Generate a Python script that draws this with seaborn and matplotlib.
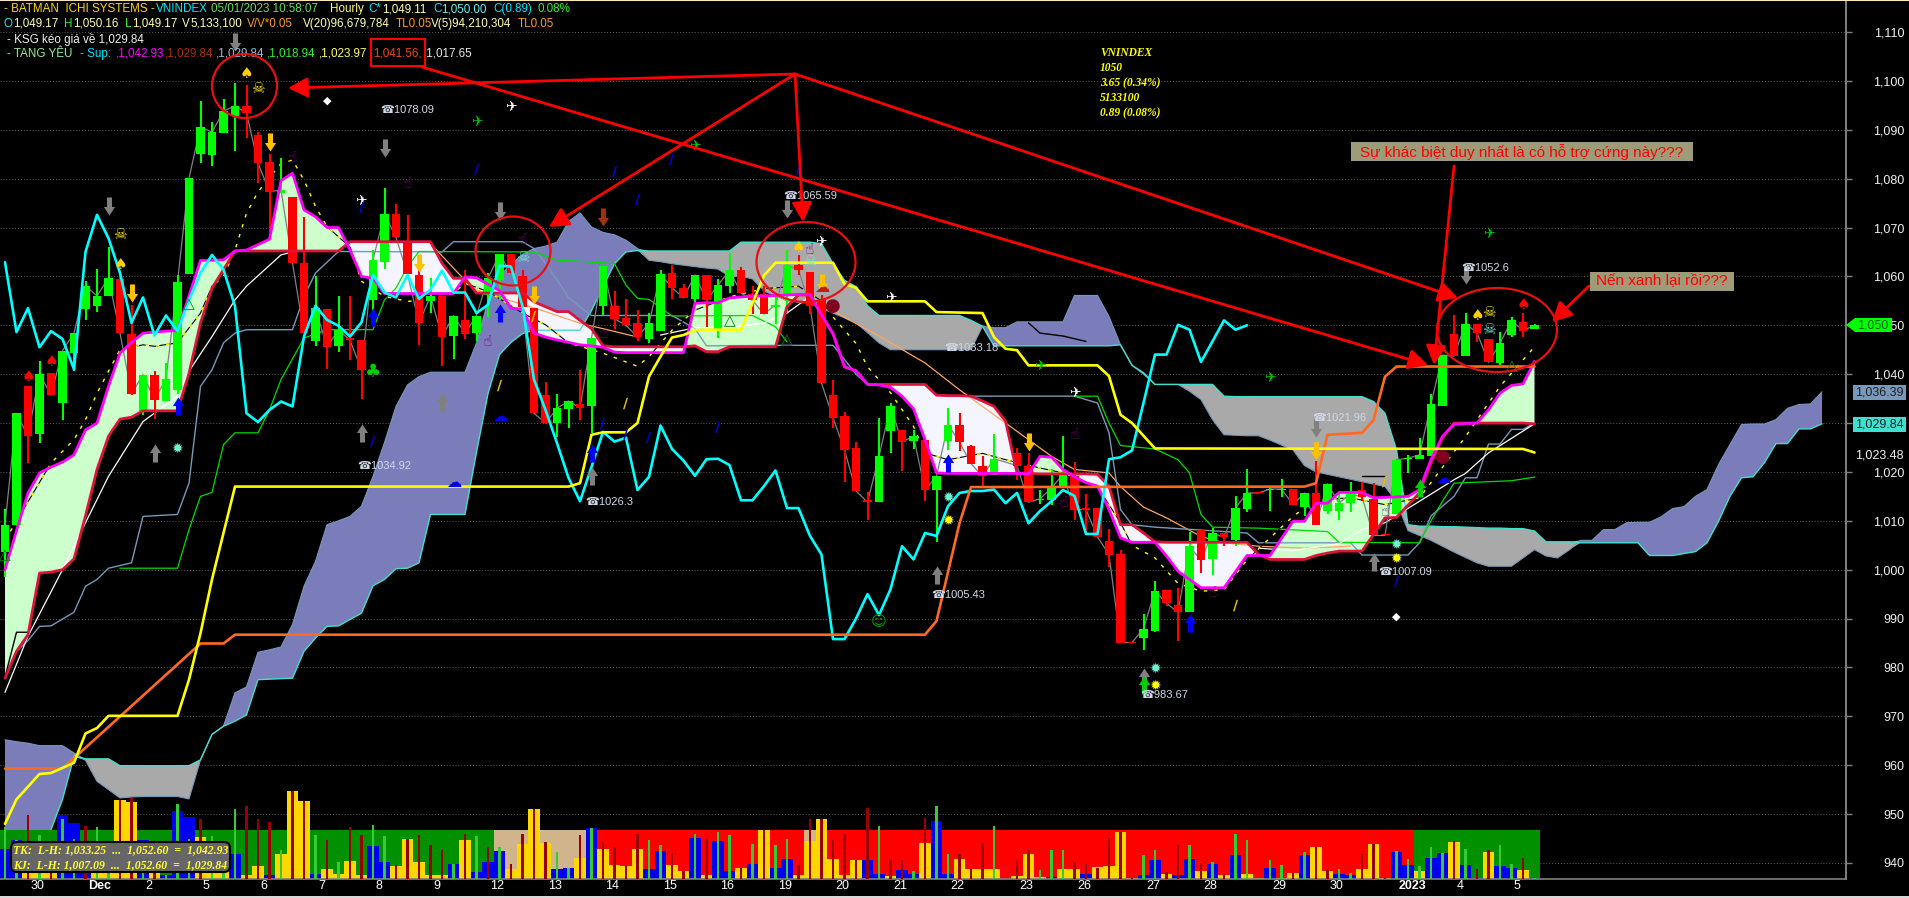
import numpy as np
import matplotlib
matplotlib.use('Agg')
import matplotlib.pyplot as plt
import matplotlib.transforms as mtrans
from matplotlib.patches import Ellipse, Rectangle, Polygon, FancyBboxPatch
import seaborn as sns

sns.set_theme(style='dark', rc={'axes.facecolor': 'black', 'figure.facecolor': 'black'})
UI_FONT = ['Liberation Sans', 'DejaVu Sans']
plt.rcParams['font.family'] = UI_FONT
nan = float('nan')

# --- candles, one per hourly bar ---
opens = [1003.6, 1009.2, 1037.5, 1027.8, 1040.2, 1034.2, 1044.3, 1053.3, 1054, 1055.9,
         1059.5, 1048.3, 1032.5, 1039.9, 1034.6, 1036.7, 1060.5, 1085, 1084.8, 1089.3,
         1092.8, 1094.9, 1088.9, 1083.4, 1077, 1076.2, 1062.7, 1046.7, 1053.3, 1045.7,
         1047.4, 1047, 1055.2, 1062.9, 1072.8, 1067.2, 1060.3, 1055, 1055.9, 1047.9,
         1051.1, 1048.4, 1056.2, 1059.2, 1064.5, 1060, 1053.6, 1035.7, 1030, 1032.8,
         1033.9, 1033.5, 1053.9, 1053.9, 1051.5, 1050.4, 1047.2, 1048.9, 1060.6, 1057.7,
         1055.3, 1060.3, 1049, 1058, 1061.4, 1056.5, 1056.3, 1053.8, 1056.4, 1062.3,
         1060.9, 1055.1, 1035.7, 1031.4, 1024.9, 1014.3, 1013.8, 1028.3, 1028.5, 1026.3,
         1026.6, 1016.3, 1026.4, 1029.7, 1025.3, 1021.3, 1019.3, nan, 1023.8, 1021.3,
         1014.2, 1014.3, 1017.2, 1019.1, 1012.6, 1012.6, 1005.9, 1003.3, 985.2, 986,
         987.4, 995.9, 992.8, 991.3, 1008.2, 1002.1, 1007.5, 1006.1, 1012.5, 1015.9,
         1016.2, 1016.3, 1016.5, 1012.8, 1015.7, 1012.1, 1012.1, 1013.6, 1016.4, 1014.5,
         1007.2, 1011.3, 1022.6, 1022.6, 1023.3, 1033.5, 1048.2, 1043.7, 1050.3, 1047.2,
         1042.2, 1048, 1050.7, 1049.2]
highs = [1012.4, 1032, 1037.5, 1042.6, 1040.2, 1044.8, 1048.4, 1059, 1061.5, 1066.1,
         1061, 1054.2, 1039.9, 1040.7, 1042.3, 1060.3, 1080.1, 1095.9, 1091.6, 1096.3,
         1099.6, 1099.2, 1089.5, 1085, 1084.2, 1076.2, 1072.2, 1060, 1053.3, 1056,
         1056, 1047, 1065.4, 1078.1, 1074.8, 1072.6, 1061.4, 1059.7, 1055.9, 1052,
         1061.4, 1052, 1060.6, 1064.5, 1064.5, 1061.3, 1053.6, 1038.4, 1036, 1034.5,
         1040.8, 1047.3, 1062.1, 1057, 1055.3, 1053.1, 1052.6, 1061.4, 1062.4, 1058.5,
         1060.3, 1060.3, 1059.4, 1064.7, 1062, 1058, 1058, 1056.5, 1065.5, 1064.3,
         1060.9, 1056.2, 1038.8, 1032.3, 1026.2, 1015.9, 1031, 1034, 1028.5, 1028.5,
         1026.6, 1019.1, 1033.1, 1032.1, 1025.6, 1023.3, 1027.8, nan, 1024.9, 1023.8,
         1016.4, 1020.5, 1027.4, 1022, 1015.4, 1012.6, 1008.3, 1004, 985.2, 990.9,
         997.6, 995.9, 996.3, 1007.8, 1008.2, 1008.5, 1007.5, 1015, 1020.6, 1015.9,
         1016.8, 1018.5, 1016.5, 1015.7, 1022.2, 1017.6, 1015.7, 1018, 1018, 1017.7,
         1007.2, 1022.5, 1023.5, 1026.9, 1036, 1043.9, 1052.1, 1052.5, 1050.3, 1047.2,
         1048.6, 1051.6, 1052.5, 1050.3]
lows = [998.5, 1009, 1021.8, 1026, 1035.7, 1030.7, 1040.6, 1051.1, 1052.8, 1055.9,
        1048.4, 1035.7, 1031.6, 1030.9, 1034.6, 1036, 1060.5, 1083.2, 1082.6, 1089.3,
        1085.7, 1088.3, 1079.1, 1069.1, 1077, 1062.7, 1048.4, 1045.8, 1041, 1044.5,
        1042.8, 1035, 1052.5, 1061.5, 1068, 1060.5, 1046, 1052.5, 1041.6, 1043.1,
        1047.2, 1046.7, 1051.6, 1055.1, 1060.6, 1052.1, 1032, 1030, 1027.2, 1029,
        1030.6, 1027.9, 1052.1, 1049.3, 1050, 1046.8, 1046.4, 1048.9, 1055.4, 1055.6,
        1054.5, 1049.7, 1047.3, 1056.6, 1056.6, 1052.4, 1052.3, 1050.2, 1052.8, 1060.3,
        1052.3, 1038.2, 1028.9, 1018, 1016.1, 1010.1, 1013.8, 1023.9, 1020.1, 1024.6,
        1014, 1005.6, 1024.4, 1024.2, 1021.7, 1016.7, 1019.3, nan, 1018.4, 1013.8,
        1013.5, 1013.3, 1017.2, 1010.1, 1007.2, 1006.7, 1000.5, 985.1, 985.1, 983.6,
        987.2, 992.5, 985.4, 991.3, 999.3, 999, 1004.9, 1004.9, 1011.7, 1015.7,
        1012.1, 1014.8, 1013.3, 1010.9, 1009.2, 1011.3, 1010.1, 1011.9, 1014, 1007,
        1007, 1011.3, 1019.8, 1022.6, 1023.3, 1033.5, 1043.7, 1043.7, 1046.5, 1042.4,
        1041.8, 1047.5, 1047.7, 1049.2]
closes = [1009.2, 1032, 1027.3, 1040.1, 1035.7, 1044.8, 1048.4, 1058.1, 1056, 1059.7,
          1048.4, 1036, 1039.9, 1034.8, 1039, 1058.9, 1080.1, 1090.6, 1089.5, 1093.8,
          1094.9, 1093.4, 1083.2, 1077.3, 1077.7, 1062.7, 1048.4, 1053.5, 1045.5, 1049.1,
          1046.9, 1040.9, 1063.4, 1072.8, 1068, 1060.5, 1050.4, 1056, 1047.6, 1052,
          1048.3, 1052, 1059.6, 1064.5, 1060.6, 1053.8, 1032, 1030, 1033, 1034.5,
          1033.1, 1047.3, 1062.1, 1051.3, 1050, 1047.6, 1050.4, 1060.5, 1057.7, 1055.6,
          1060.3, 1055.1, 1058.2, 1061.3, 1056.6, 1055.1, 1052.3, 1054.2, 1062.3, 1061.3,
          1053.9, 1038.2, 1031.1, 1024.5, 1016.1, 1013.8, 1023.2, 1033.4, 1026.1, 1027.3,
          1016.3, 1019.1, 1029.7, 1026.1, 1021.7, 1019.1, 1022.7, nan, 1021.3, 1013.8,
          1014.5, 1016.7, 1019.5, 1012.3, 1012.3, 1006.7, 1003.1, 985.1, 985.1, 987.9,
          995.7, 993.1, 991.3, 1004.8, 1001.9, 1007.5, 1006.6, 1012.6, 1015.7, 1015.7,
          1016.5, 1016.5, 1013.3, 1015.7, 1009.2, 1017.6, 1013.6, 1015.5, 1014.9, 1007,
          1007, 1022.5, 1022.8, 1023.5, 1033.9, 1043.9, 1043.7, 1050.3, 1048.5, 1042.4,
          1046.3, 1051, 1048.9, 1050]

# --- ichimoku cloud pair, one value per bar ---
magenta_line = [1000, 1008, 1015.7, 1019.8, 1021, 1022, 1023.5, 1028.6, 1030, 1037.5,
                1044.3, 1046.5, 1048.4, 1048.6, 1048.8, 1048.9, 1056, 1063.3, 1063.3, 1063.4,
                1065.2, 1065.4, 1066.5, 1067.6, 1079.6, 1081.1, 1073.6, 1072.2, 1070, 1070,
                1065.4, 1060, 1059.6, 1056.5, 1056.5, 1056.5, 1056.5, 1056.5, 1056.5, 1056.5,
                1059.9, 1059.7, 1058.4, 1057.1, 1053.5, 1053.3, 1048.4, 1047.6, 1047, 1046.5,
                1046, 1045.8, 1045.5, 1044.5, 1044.4, 1044.4, 1044.4, 1044.4, 1044.4, 1044.4,
                1054.5, 1054.6, 1054.6, 1055.6, 1055.8, 1056, 1056, 1056.1, 1056.2, 1056.3,
                1056.3, 1052.1, 1048.3, 1041.5, 1040.7, 1037.9, 1037.8, 1037.3, 1035.5, 1032.9,
                1026.6, 1019.8, 1019.7, 1019.7, 1019.7, 1019.7, 1019.7, 1019.7, 1019.7, 1019.6,
                1023.2, 1023, 1020.5, 1019, 1017.8, 1017.1, 1012.3, 1006.5, 1005.6, 1005.6,
                1005.6, 1002.8, 999.7, 998, 996.3, 996.3, 996.3, 999.6, 1002.9, 1002.9,
                1002.9, 1006.4, 1009.9, 1009.9, 1013.6, 1013.6, 1015.8, 1015.8, 1015.8, 1014.7,
                1014.8, 1014.9, 1015, 1016.4, 1022.5, 1027.3, 1029.7, 1029.9, 1030, 1032.7,
                1036.1, 1037.7, 1038, 1042.6]
crimson_line = [977.8, 983.3, 986.7, 999.3, 999.5, 1000, 1002.2, 1011, 1020.5, 1027.3,
                1030.8, 1031.2, 1032.5, 1032.5, 1032.5, 1032.5, 1040.2, 1050.5, 1057.6, 1061.4,
                1065.2, 1065.2, 1065.2, 1065.2, 1065.2, 1065.2, 1065.2, 1065.2, 1065.2, 1065.2,
                1067.1, 1067.1, 1067.1, 1067.1, 1067.1, 1067.1, 1067.1, 1067.1, 1062.7, 1059.6,
                1059.6, 1056.6, 1056.6, 1056.6, 1056.6, 1056.6, 1054.8, 1053.8, 1052.8, 1052.8,
                1051, 1049.3, 1045.8, 1045.6, 1045.6, 1045.6, 1045.6, 1045.6, 1045.6, 1045.6,
                1045.8, 1044.6, 1044.6, 1045.6, 1045.6, 1045.6, 1045.6, 1045.6, 1053.8, 1056.2,
                1056.2, 1052.1, 1048.3, 1041.5, 1040.7, 1037.9, 1037.9, 1037.9, 1037.9, 1037.9,
                1037.9, 1035.7, 1035.6, 1035.6, 1035.5, 1034.5, 1033.4, 1030.4, 1019.8, 1019.7,
                1019.6, 1019.6, 1019.6, 1019.6, 1019.6, 1019.5, 1017.1, 1009.2, 1009.2, 1007.5,
                1005.7, 1005.6, 1005.6, 1005.6, 1005.6, 1005.6, 1005.6, 1005.6, 1005.6, 1003.1,
                1002.1, 1002.1, 1002.1, 1002.1, 1002.9, 1003.4, 1003.8, 1003.8, 1003.8, 1007.2,
                1010.6, 1010.7, 1013.2, 1015.7, 1021.8, 1027, 1030, 1030, 1030, 1030,
                1030, 1030, 1030, 1029.84]

# --- kumo shifted forward, runs past the last candle ---
kumo_top = [965.2, 964.8, 964.5, 964, 964, 964, 962.5, 961.3, 961.3, 961.3,
            959.9, 959.9, 959.9, 959.9, 959.9, 959.9, 959.9, 961.1, 966.3, 968,
            974.8, 976, 983.1, 983.6, 984.2, 988.8, 996.6, 1001.7, 1009.2, 1010,
            1010.9, 1013, 1019.1, 1026, 1033.4, 1037.8, 1039.5, 1040.4, 1040.4, 1040.4,
            1040.4, 1046.4, 1055, 1060, 1062.5, 1064.5, 1065.7, 1066.2, 1067, 1071.2,
            1073, 1070.1, 1069, 1068.5, 1067.4, 1065.7, 1065.2, 1065.2, 1065.2, 1065.2,
            1065.2, 1065.2, 1065.2, 1065.2, 1067, 1067, 1067, 1067, 1067, 1067,
            1067, 1066.7, 1062.6, 1059.2, 1057.9, 1054, 1052, 1052, 1052, 1052,
            1052, 1052, 1052, 1052, 1051, 1049.8, 1049.5, 1049.5, 1050.7, 1050.7,
            1050.7, 1050.7, 1050.7, 1056.1, 1056.1, 1056.1, 1051.8, 1046, 1041.8, 1040.3,
            1037.9, 1037.9, 1037.9, 1037.9, 1037.9, 1037.9, 1035.5, 1035.4, 1035.4, 1035.4,
            1035.4, 1035.4, 1035.4, 1035.4, 1035.4, 1035.4, 1035.4, 1035.4, 1035.4, 1034.4,
            1032, 1024.5, 1009.2, 1008.9, 1008.9, 1008.8, 1008.8, 1008.7, 1008.6, 1008.5,
            1008.5, 1008.4, 1008.4, 1007.9, 1005.7, 1005.7, 1005.7, 1006, 1006, 1008.2,
            1008.2, 1009.6, 1009.7, 1009.7, 1010.8, 1012.5, 1012.9, 1015, 1016.4, 1021.5,
            1025.6, 1029.7, 1029.8, 1029.8, 1030.7, 1033, 1033.8, 1033.9, 1036.39]
kumo_bot = [937, 937, 939, 941.8, 946.8, 953, 961.8, 961, 956.7, 955,
            953.3, 953.5, 953.6, 953.6, 953.6, 953.6, 953.1, 961.1, 966.3, 968,
            969, 970.3, 977.5, 977.6, 977.7, 977.8, 983.3, 986, 988.4, 988.5,
            989.8, 991.1, 996.7, 998, 1000.2, 1000.3, 1001.4, 1011.3, 1011.3, 1011.3,
            1011.3, 1024, 1036, 1044, 1046.5, 1048.3, 1049, 1049, 1049, 1049,
            1049, 1053, 1057.9, 1062.6, 1065, 1065.3, 1063.3, 1063, 1062.6, 1062.3,
            1062, 1061.7, 1061.5, 1060, 1060, 1059.5, 1057, 1056, 1055, 1054.7,
            1054.5, 1053.5, 1052.5, 1051.5, 1050.5, 1048.5, 1046.4, 1045, 1045, 1045,
            1045, 1045, 1045, 1045, 1045, 1049.8, 1045.8, 1045.8, 1045.8, 1045.8,
            1045.8, 1045.8, 1045.8, 1045.8, 1045.8, 1045.8, 1045.8, 1046, 1041.8, 1040,
            1037.9, 1037.9, 1037.9, 1036.5, 1034.8, 1030.7, 1027.6, 1027.5, 1027.4, 1027.4,
            1026.5, 1025.5, 1024.5, 1021.3, 1020, 1019.5, 1019, 1018.5, 1018, 1017.5,
            1017, 1014, 1008, 1007, 1006, 1004.8, 1003.6, 1002.5, 1001.4, 1000.7,
            1000.7, 1000.7, 1002.4, 1004.1, 1002.8, 1002.4, 1004, 1005.5, 1005.5, 1005.5,
            1005.5, 1005.5, 1005.5, 1002.9, 1002.9, 1002.9, 1003.3, 1003.7, 1005.5, 1009.9,
            1015, 1018.8, 1019, 1021.9, 1025.8, 1025.8, 1028.8, 1028.8, 1029.84]
gray_spans = [(6, 17), (55, 85), (97, 137)]

# --- lagging span (thick cyan), one value per bar up to bar 108 ---
cyan_line = [1062.9, 1048.6, 1053.5, 1045.5, 1048.8, 1047.2, 1041, 1065, 1072.6, 1067.8,
             1060.7, 1050.5, 1055.7, 1047.9, 1052, 1048.8, 1055.2, 1060.7, 1064.4, 1061.4,
             1053.9, 1032, 1030.2, 1032.7, 1034.4, 1033.4, 1047.7, 1054, 1051.1, 1049.9,
             1047.7, 1050.6, 1060.3, 1056.7, 1055.7, 1060.3, 1055.4, 1057.3, 1061.2, 1056.7,
             1056.7, 1052.5, 1054.2, 1062.2, 1062, 1053.9, 1038.9, 1032.7, 1025.9, 1018.8,
             1014, 1021, 1028.2, 1026.2, 1027, 1016.3, 1019, 1029.5, 1024.7, 1022.3,
             1019.2, 1022.6, 1022.7, 1021.4, 1014.2, 1014.2, 1017.1, 1020.3, 1012.6, 1012.6,
             1006.9, 1003.1, 985.8, 985.8, 990, 995, 990.7, 996, 1004.8, 1002.1,
             1007.5, 1006.9, 1013, 1015.7, 1016.1, 1016.1, 1016.4, 1013.6, 1015.7, 1009.5,
             1012, 1014, 1016.3, 1015.1, 1007.3, 1007.3, 1022.6, 1023, 1024.4, 1034.1,
             1044, 1044, 1050.1, 1049.1, 1042.5, 1046.7, 1051, 1049.1, 1050]

# --- other lines: (bar, price) vertices ---
yellow_x = [0, 1, 3, 4, 6, 7, 8, 9, 15, 16, 17, 18, 19, 20, 49, 50, 51, 52, 54, 55, 56, 57, 58, 59, 60, 61, 64, 65, 66, 67,
            72, 73, 74, 75, 80, 81, 85, 86, 87, 88, 89, 95, 96, 97, 98, 100, 132, 133]
yellow_y = [948, 953, 958.2, 958.4, 960.5, 966.5, 967.6, 970.1, 970.1, 977.5, 987, 998, 1007.5, 1017, 1017, 1017.7, 1027.6, 1028.1,
            1028.1, 1030, 1039.5, 1043.6, 1047.5, 1048, 1049, 1049.1, 1049.1, 1054.5, 1060.2, 1062.8, 1062.8, 1058.4, 1057.7,
            1054.9, 1054.9, 1052.7, 1052.5, 1047.6, 1045.2, 1044.9, 1041.8, 1041.8, 1039.6, 1031.7, 1030, 1024.8, 1024.7, 1023.97]
orange_x = [0, 5, 17, 19, 20, 80, 81, 83, 84, 113, 114, 115, 118, 119, 120, 121, 133]
orange_y = [959.3, 959.3, 984.9, 984.9, 986.7, 986.7, 989.5, 1009.5, 1016.9, 1017, 1017.7, 1027.6, 1028, 1030.6, 1039.5, 1041.56, 1041.56]
steel_x = [1, 2, 3, 4, 6, 7, 8, 9, 11, 12, 15, 16, 17, 18, 19, 20, 21, 25, 26, 27, 29, 38, 39, 45, 46, 47, 48, 49, 50, 51,
           58, 60, 61, 67, 72, 73, 74, 75, 80, 81, 84, 93, 95, 96, 97, 98, 100, 108, 109, 117, 118, 122, 123, 124, 126, 127,
           128, 129, 130, 131, 132, 133]
steel_y = [983.3, 985.5, 988.4, 988.5, 991.3, 996.6, 998, 1000.3, 1001.4, 1010.9, 1011.3, 1017.7, 1037.5, 1040.9, 1046.4,
           1048.4, 1049.1, 1049.1, 1055.9, 1060.7, 1065.1, 1065, 1067.1, 1067.1, 1065.7, 1062.7, 1059.3, 1055.7, 1053.8, 1052,
           1052, 1049.3, 1045.8, 1045.9, 1045.9, 1043, 1040, 1037.9, 1037.9, 1035.7, 1035.5, 1035.5, 1034.1, 1028, 1012.3,
           1009.2, 1008.7, 1007.5, 1005.5, 1005.5, 1003, 1003, 1005.5, 1011, 1015, 1018.8, 1018.8, 1025.7, 1025.7, 1028.7,
           1028.7, 1030]
white_seg_x = [[0, 2, 5, 7, 9, 12, 15, 16, 18, 20, 21, 24, 25], [57, 60, 63, 66, 68, 70], [109, 112, 116, 118, 120, 123, 126, 127, 129, 133]]
white_seg_y = [[974.9, 986.4, 1000, 1009.6, 1019.1, 1030.3, 1035.5, 1040.6, 1047.7, 1055.2, 1058, 1064.4, 1065],
               [1048, 1049.5, 1049.5, 1050.5, 1052.5, 1055.9],
               [1004.4, 1003.9, 1005.3, 1008.2, 1009.6, 1014, 1018.4, 1019.7, 1023.9, 1029.84]]
green_seg_x = [[10, 15, 16, 17, 18, 19, 20, 22, 23, 24, 26, 28, 32, 33, 34, 35, 36, 46, 48, 50, 53, 54, 55, 56, 58, 65, 67, 68],
               [93, 95, 96, 97, 100, 102, 103, 104, 105, 109, 115, 116, 123, 124, 125, 126, 131, 133]]
green_seg_y = [[1000.3, 1000.3, 1008.2, 1015, 1015.8, 1025.6, 1028, 1028, 1032.7, 1038.9, 1047.4, 1049.1, 1049.1, 1055.2,
                1057.6, 1062, 1065.1, 1065, 1063.3, 1063.1, 1062.6, 1058.2, 1055.5, 1055.3, 1051.9, 1052, 1049.7, 1046.6],
               [1035.5, 1035.5, 1030, 1025.4, 1024.7, 1022.5, 1019.8, 1011.3, 1008.7, 1008.5, 1007.8, 1005.6, 1005.5, 1010,
                1014, 1017.7, 1018.2, 1018.94]]
tan_seg_x = [[37, 40, 41, 47, 50, 52, 55], [71, 72, 76, 80, 83, 87, 91, 93, 96, 97, 99, 101, 104, 106, 109, 113, 117]]
tan_seg_y = [[1066.7, 1059.2, 1057.2, 1052.8, 1050.4, 1049.3, 1047.6],
             [1054.5, 1052.9, 1047.8, 1042.3, 1036.8, 1030, 1023.2, 1020.5, 1019.8, 1017, 1012.8, 1010.6, 1006.8, 1005.5, 1004.8,
              1004.4, 1004.8]]
dash_x = [0, 4, 6, 7, 8, 9, 10, 12, 13, 15, 17, 18, 19, 20, 21, 22, 24, 25, 26, 27, 28, 30, 31, 33, 35, 37, 39, 40, 42, 45,
          47, 49, 52, 55, 56, 58, 60, 63, 66, 69, 71, 72, 74, 75, 77, 79, 80, 82, 85, 87, 90, 92, 95, 97, 98, 100, 102, 104,
          106, 108, 110, 112, 114, 117, 120, 123, 127, 130, 133]
dash_y = [1006, 1021.8, 1026.6, 1030.7, 1036.1, 1040.6, 1045, 1046, 1045.7, 1046.4, 1052.5, 1058, 1060, 1065.4, 1072.9,
          1077.3, 1083.1, 1083.8, 1079.7, 1074.3, 1070.2, 1066, 1059, 1055.9, 1054.9, 1055.2, 1056.6, 1058.6, 1056.9, 1052.5,
          1050.1, 1046.4, 1044.3, 1041.6, 1043.6, 1049, 1053.1, 1055.8, 1057.5, 1058, 1055, 1051.7, 1046.3, 1041.5, 1036.2,
          1029.3, 1023.9, 1022.5, 1023.8, 1022.5, 1020.8, 1019.8, 1017, 1009.6, 1005, 1002.4, 997.2, 995.6, 995.9, 1002, 1006.5,
          1010.9, 1014.3, 1014.7, 1013.3, 1014.7, 1027.2, 1037.5, 1045.6]
black_seg_x = [[0, 1, 2], [89, 90, 92, 94], [118, 120]]
black_seg_y = [[978, 987.2, 987.2], [1050.5, 1048.4, 1047.8, 1046.7], [1019.1, 1019.1]]

# --- volume panel, millions of shares ---
vol_wide = [30, 39, 15, 15, 15, 64, 56, 30, 20, 15,
            79, 77, 39, 20, 4, 68, 62, 42, 30, 25,
            25, 4, 13, 4, 25, 88, 78, 5, 10, 5,
            18, 4, 33, 17, 13, 40, 17, 4, 4, 15,
            39, 7, 17, 28, 10, 35, 70, 36, 10, 11,
            21, 51, 30, 14, 13, 30, 10, 28, 14, 8,
            41, 4, 38, 8, 11, 15, 49, 11, 20, 4,
            38, 60, 20, 4, 19, 19, 5, 3, 9, 5,
            36, 58, 5, 20, 10, 10, 10, 0, 3, 25,
            2, 2, 10, 10, 5, 12, 13, 47, 1, 4,
            19, 5, 4, 20, 8, 15, 4, 24, 5, 1,
            11, 1, 6, 24, 32, 8, 5, 4, 10, 35,
            1, 27, 14, 8, 21, 26, 37, 14, 1, 27,
            13, 11, 9, 1]
vol_kind = list("bbyyybbbyy" "yybybbbyyy" "byybyyybyy" "yybbyyyyyb"
                "ybbbyyyybb" "ybyyyybbyy" "bybbybybby" "yyyyybbybb"
                "ybbyyyyyyy" "ybyybyyyyb" "bybbybybyy" "byybyybbyy"
                "ybbybbybby" "bbyb")
vol_thin = [52, 39, 64, 44, 20, 60, 40, 53, 52, 15,
            79, 81, 30, 20, 4, 75, 40, 60, 43, 25,
            70, 73, 60, 57, 29, 88, 78, 44, 39, 17,
            52, 44, 54, 43, 14, 40, 44, 34, 29, 15,
            45, 43, 32, 32, 15, 45, 70, 37, 27, 11,
            44, 51, 37, 32, 14, 45, 39, 34, 26, 8,
            45, 40, 47, 44, 11, 35, 49, 34, 40, 14,
            60, 60, 39, 45, 19, 71, 53, 19, 19, 8,
            61, 73, 25, 25, 10, 36, 53, 0, 19, 29,
            9, 29, 29, 17, 15, 11, 41, 47, 1, 24,
            29, 7, 34, 34, 16, 17, 6, 45, 39, 1,
            19, 14, 6, 27, 32, 9, 10, 6, 25, 35,
            1, 28, 20, 13, 32, 26, 38, 30, 10, 29,
            34, 15, 21, 1]
thin_kind = list("ggrgrggrgg" "rrgrgggrgg" "grrrgrrgrg" "rrggrrrrrg"
                 "rgrgrrrrgg" "rgrrrrggrr" "grggrgrggr" "rrrrrrgrrg"
                 "rggrrrggrr" "gggrrrrrrg" "grrgrgrggg" "ggrgrrggrr"
                 "rgggggrgrr" "ggrg")
band_spans = [(0, 42, '#009000'), (43, 51, '#D2B48C'), (52, 69, '#FF0000'), (70, 70, '#D2B48C'),
              (71, 122, '#FF0000'), (123, 133, '#009000')]
band_height = 49

# --- axis ---
price_ticks = list(range(940, 1111, 10))
day_pos = [2, 7, 12, 17, 22, 27, 32, 37, 42, 47, 52, 57, 62, 67, 72, 77, 82, 88, 93, 99, 104, 110, 115, 121, 126, 131]
day_labels = ['30', 'Dec', '2', '5', '6', '7', '8', '9', '12', '13', '14', '15', '16', '19', '20', '21', '22', '23',
              '26', '27', '28', '29', '30', '2023', '4', '5']

# --- chart icons: (bar, price) ---
gray_down = [(20, 1108), (33, 1086.2), (9, 1074.4), (43, 1073.4), (68, 1073.8), (114, 1029), (127, 1060.3)]
gray_up = [(13, 1023.9), (31, 1028), (38, 1034.3), (51, 1019.2), (81, 998.9), (119, 1001.5), (99, 978)]
gold_down = [(23, 1087.5), (11, 1056.6), (36, 1062.7), (46, 1056.2), (71, 1058.6), (89, 1026.1), (114, 1024.3)]
darkred_down = [(52, 1072.2)]
blue_up = [(15, 1033.5), (32, 1051.7), (43, 1052.5), (51, 1023.9), (82, 1021.8), (103, 989)]
green_up = [(99, 976.5), (123, 1016.7)]
yellow_spade = [(21, 1101.6), (10, 1062.5), (69, 1066), (128, 1051.9)]
red_spade = [(2, 1039.6), (4, 1042.5), (132, 1054.3)]
yellow_skull = [(22, 1098.5), (10, 1068.5), (129, 1052.7)]
teal_skull = [(45, 1063.8), (70, 1063), (129, 1049.2)]
white_plane = [(44, 1094.9), (31, 1075.5), (71, 1067.2), (77, 1055.8), (93, 1036.4)]
green_plane = [(41, 1091.8), (60, 1086.9), (90, 1041.9), (110, 1039.4), (129, 1068.9)]
small_blue = [(41, 1081.8), (53, 1081.4), (55, 1075.6), (31, 1074), (32, 1026.1), (52, 1029.8), (54, 1027.6), (56, 1027),
              (62, 1029), (58, 1083.8), (69, 1081.8), (121, 997.5)]
small_gold = [(43, 1037.6), (54, 1033.9), (107, 992.6), (46, 1051.7), (120, 1018)]
purple_hand = [(25, 1084.4), (42, 1046.6), (52, 1048.4), (93, 1027.6), (92, 1013.8), (105, 995.4), (120, 1011.9), (35, 1079),
               (45, 1067.5), (70, 1065.5)]
blue_cloud = [(43, 1031.4), (39, 1017.9), (125, 1018.7)]
red_cloud = [(71, 1057.8)]
green_triangle = [(16, 1054.4), (63, 1051), (68, 1047), (131, 1041.8), (0, 1003)]
teal_star = [(15, 1024.7), (82, 1014.7), (100, 979.7), (121, 1005)]
yellow_star = [(82, 1010), (100, 976.2), (121, 1002.2)]
white_diamond = [(28, 1095.9), (121, 990.3)]
bomb = [(72, 1054), (125, 1023)]
green_club = [(32, 1040.4)]
green_smile = [(76, 989.3)]
level_labels = [(32.6, 1094, '1078.09'), (30.6, 1021.3, '1034.92'), (50.5, 1013.8, '1026.3'), (67.7, 1076.5, '1065.59'),
                (81.7, 1045.4, '1033.18'), (80.5, 994.8, '1005.43'), (98.7, 974.4, '983.67'), (113.7, 1031, '1021.96'),
                (119.4, 999.5, '1007.09'), (126.6, 1061.7, '1052.6')]

# figure is laid out in screen pixels
W, H = 1909, 898
plot_right, plot_bottom = 1846, 879
fig = plt.figure(figsize=(W / 100, H / 100), dpi=100, facecolor='black')
rect = [0, (H - plot_bottom) / H, plot_right / W, plot_bottom / H]
ax = fig.add_axes(rect)
ax_vol = fig.add_axes(rect, sharex=ax)
ax_top = fig.add_axes([0, 0, 1, 1])

bar_x = np.arange(len(closes))
kumo_x = np.arange(len(kumo_top))
ax.set_xlim((0 - 5) / 11.5, (plot_right - 5) / 11.5)
ax.set_ylim(1110 - (plot_bottom - 32) / 4.888, 1110 + 32 / 4.888)
ax_vol.set_ylim(0, plot_bottom)
ax_top.set_xlim(0, W)
ax_top.set_ylim(H, 0)
ax_top.axis('off')
ax_top.patch.set_alpha(0)
ax_vol.patch.set_alpha(0)

ax.set_yticks(price_ticks)
ax.set_yticklabels([f'{p:,}' for p in price_ticks], color='#F0F0F0', fontsize=9, ha='right')
ax.yaxis.tick_right()
ax.tick_params(axis='y', length=4, width=1, color='#808080', pad=38)
ax.grid(axis='y', color='#5E5E5E', linestyle=(0, (1, 2)), linewidth=0.7)
ax.grid(axis='x', visible=False)
ax.set_axisbelow(True)
for name, spine in ax.spines.items():
    spine.set_visible(name == 'right')
    spine.set_color('#808080')
    spine.set_linewidth(1.4)
for name, spine in ax_vol.spines.items():
    spine.set_visible(name == 'bottom')
    spine.set_color('#808080')
    spine.set_linewidth(1.2)
plt.setp(ax.get_xticklabels(), visible=False)
ax.tick_params(axis='x', length=0)
ax_vol.set_yticks([])
ax_vol.set_xticks(day_pos)
ax_vol.set_xticklabels(day_labels, color='white', fontsize=9, ha='left')
ax_vol.tick_params(axis='x', length=5, width=1, color='#808080', pad=-4)
for lbl in ax_vol.get_xticklabels():
    lbl.set_transform(lbl.get_transform() + mtrans.ScaledTranslation(2.5 / 100, 0, fig.dpi_scale_trans))
    if lbl.get_text() in ('Dec', '2023'):
        lbl.set_fontweight('bold')

# kumo
top_arr, bot_arr = np.array(kumo_top), np.array(kumo_bot)
is_gray = np.zeros(len(kumo_x), dtype=bool)
for a, b in gray_spans:
    is_gray[a:b + 1] = True
is_blue = ~is_gray
for a, b in gray_spans:
    is_blue[a] = True
    is_blue[b] = True
ax.fill_between(kumo_x, bot_arr, top_arr, where=is_blue, color='#7B7DBB', linewidth=0, zorder=1)
ax.fill_between(kumo_x, bot_arr, top_arr, where=is_gray, color='#A9A9A9', linewidth=0, zorder=1)
inner_gray = is_gray.copy()
for a, b in gray_spans:
    inner_gray[a] = False
    inner_gray[b] = False
span_b = np.where(inner_gray, top_arr, bot_arr)
span_a = np.where(inner_gray, bot_arr, top_arr)

# cloud
mag_arr, crim_arr = np.array(magenta_line), np.array(crimson_line)
ax.fill_between(bar_x, crim_arr, mag_arr, where=mag_arr >= crim_arr, interpolate=True, color='#CCFFCC', linewidth=0, zorder=2)
ax.fill_between(bar_x, crim_arr, mag_arr, where=mag_arr <= crim_arr, interpolate=True, color='#F5F5FF', linewidth=0, zorder=2)


def line(x, y, color, width, z, **kw):
    sns.lineplot(x=x, y=y, ax=ax, color=color, linewidth=width, estimator=None, sort=False, errorbar=None,
                 legend=False, zorder=z, **kw)


line(kumo_x, span_a, '#7799BB', 0.8, 2.5)
line(kumo_x, span_b, '#40E0D0', 1.0, 2.5)
for xs, ys in zip(black_seg_x, black_seg_y):
    line(xs, ys, 'black', 1.0, 2.6)
for xs, ys in zip(tan_seg_x, tan_seg_y):
    line(xs, ys, '#FFA560', 0.9, 3)
line(steel_x, steel_y, '#7799BB', 1.0, 3)
for xs, ys in zip(green_seg_x, green_seg_y):
    line(xs, ys, '#00DD00', 0.9, 3)
for xs, ys in zip(white_seg_x, white_seg_y):
    line(xs, ys, 'white', 0.9, 3)
line(dash_x, dash_y, 'black', 0.8, 3)
line(dash_x, dash_y, '#FFFF00', 1.0, 3.1, linestyle=(0, (2.5, 5)))

# gray close-to-close line behind the candles
o_arr, h_arr, l_arr, c_arr = map(np.array, (opens, highs, lows, closes))
ok = ~np.isnan(c_arr)
line(bar_x[ok], c_arr[ok], '#808080', 0.9, 3.2)

# candles
up = c_arr >= o_arr
down = c_arr < o_arr
for mask, col in ((up, '#00FF00'), (down, '#FF0000')):
    ax.vlines(bar_x[mask], l_arr[mask], h_arr[mask], color=col, linewidth=1.5, zorder=4)
    ax.bar(bar_x[mask], (c_arr - o_arr)[mask], bottom=o_arr[mask], width=0.78, color=col, linewidth=0, zorder=4)

# thick indicator lines on top
line(bar_x, crimson_line, '#DC143C', 2.0, 5)
line(bar_x, magenta_line, '#FF00FF', 2.0, 5.1)
line(np.arange(len(cyan_line)), cyan_line, '#00FFFF', 1.9, 5.2)
line(orange_x, orange_y, '#FF6A20', 1.9, 5.3)
line(yellow_x, yellow_y, '#FFFF00', 1.9, 5.4)

# arrows drawn as scatter markers
arrow_down = [(-.28, 1), (.28, 1), (.28, -.05), (.62, -.05), (0, -1), (-.62, -.05), (-.28, -.05)]
arrow_up = [(x, -y) for x, y in arrow_down]
for pts, verts, col, size in ((gray_down, arrow_down, '#808080', 170), (gray_up, arrow_up, '#808080', 170),
                              (gold_down, arrow_down, '#FFC000', 170), (darkred_down, arrow_down, '#A03010', 170),
                              (blue_up, arrow_up, '#0000FF', 170), (green_up, arrow_up, '#00D000', 170)):
    ax.scatter([p[0] for p in pts], [p[1] for p in pts], marker=verts, s=size, color=col, linewidths=0, zorder=6)


def glyphs(pts, char, color, size, weight='normal'):
    for px, py in pts:
        ax.text(px, py, char, color=color, fontsize=size, ha='center', va='center', family='DejaVu Sans',
                fontweight=weight, zorder=7)


glyphs(yellow_spade, '\u2660', '#FFD000', 11)
glyphs(red_spade, '\u2660', '#FF0000', 11)
glyphs(yellow_skull, '\u2620', '#FFE000', 11)
glyphs(teal_skull, '\u2620', '#70E8D0', 11)
glyphs(white_plane, '\u2708', 'white', 10)
glyphs(green_plane, '\u2708', '#00C000', 10)
glyphs(small_blue, '\u2215', '#0000E0', 10, 'bold')
glyphs(small_gold, '\u2215', '#E8C000', 10, 'bold')
glyphs(purple_hand, '\u261D', '#800080', 11)
glyphs(blue_cloud, '\u2601', '#0000E0', 11)
glyphs(red_cloud, '\u2601', '#C02010', 11)
glyphs(green_triangle, '\u25B3', '#008A00', 11)
glyphs(teal_star, '\u2739', '#70F0D0', 10)
glyphs(yellow_star, '\u2739', '#FFFF00', 10)
glyphs(white_diamond, '\u25C6', 'white', 8)
glyphs(bomb, '\u25CF', '#800020', 13)
glyphs(green_club, '\u2663', '#00D000', 13)
glyphs(green_smile, '\u263A', '#00A000', 11)
for px, py, txt in level_labels:
    ax.text(px, py, '\u260E' + txt, color='#D0D8E8', fontsize=8, ha='left', va='center', zorder=7)

# volume panel
for a, b, col in band_spans:
    xs = bar_x[a:b + 1]
    ax_vol.bar(xs, [band_height] * len(xs), width=1.0, color=col, linewidth=0, zorder=1)
kinds = np.array(vol_kind)
vol_arr, thin_arr = np.array(vol_wide), np.array(vol_thin)
thin_k = np.array(thin_kind)
for k, col in (('y', '#FFD700'), ('b', '#0000F0')):
    ax_vol.bar(bar_x[kinds == k], vol_arr[kinds == k], width=1.0, color=col, linewidth=0, zorder=2)
for k, col in (('r', '#990000'), ('g', '#33CC33')):
    ax_vol.bar(bar_x[thin_k == k], thin_arr[thin_k == k], width=0.2, color=col, linewidth=0, zorder=3)

# header text, screen positions
header = [
    (4, 9, '- BATMAN  ICHI SYSTEMS -', '#FFD700'), (156, 9, 'VNINDEX', '#00E5FF'), (211, 9, '05/01/2023 10:58:07', '#66DD66'),
    (330, 9, 'Hourly', '#FFFF66'), (368, 9, 'C*', '#00E5FF'), (382, 9, '1,049.11', '#FFFFAA'), (433, 9, 'C', '#00E5FF'),
    (441, 9, '1,050.00', '#66F0F0'), (493, 9, 'C(0.89)', '#00E5FF'), (537, 9, '0.08%', '#33EE33'),
    (4, 24, 'O', '#00E5FF'), (13, 24, '1,049.17', '#FFFFAA'), (64, 24, 'H', '#33EE33'), (73, 24, '1,050.16', '#FFFFAA'),
    (125, 24, 'L', '#33EE33'), (132, 24, '1,049.17', '#FFFFAA'), (182, 24, 'V', '#FFFFAA'), (190, 24, '5,133,100', '#FFFFAA'),
    (247, 24, 'V/V*0.05', '#FF9A20'), (303, 24, 'V(20)96,679,784', '#FFFFAA'), (396, 24, 'TL0.05', '#FF9A20'),
    (431, 24, 'V(5)94,210,304', '#FFFFAA'), (518, 24, 'TL0.05', '#FF9A20'),
    (7, 39, '- KSG k\u00e9o gi\u00e1 v\u1ec1 1,029.84', '#F0F0F0'),
    (7, 54, '- TANG Y\u00caU', '#90F090'), (80, 54, '- Sup:', '#00E5FF'), (116, 54, ',1,042.93', '#FF00FF'),
    (165, 54, ',1,029.84', '#A83000'), (216, 54, ',1,029.84', '#A0B8D8'), (267, 54, ',1,018.94', '#33EE33'),
    (319, 54, ',1,023.97', '#FFFF66'), (373, 54, '1,041.56,', '#E85000'), (424, 54, ',1,017.65', '#E8E8E8'),
]
for hx, hy, txt, col in header:
    ax_top.text(hx, hy, txt, color=col, fontsize=8.4, ha='left', va='center')

info_lines = ['VNINDEX', '1050', '3.65 (0.34%)', '5133100', '0.89 (0.08%)']
for n, txt in enumerate(info_lines):
    ax_top.text(1100, 53 + 15 * n, txt, color='#FFFF00', fontsize=8.3, family='Liberation Serif', style='italic',
                fontweight='bold', ha='left', va='center')

# TK / KJ box
ax_top.add_patch(FancyBboxPatch((14, 845), 213, 24, boxstyle='round,pad=3,rounding_size=6', facecolor='#666666',
                                edgecolor='black', linewidth=1.5, zorder=8))
ax_top.text(13, 850, 'TK:  L-H: 1,033.25  ...  1,052.60  =  1,042.93', color='#FFFF33', fontsize=8.5, family='Liberation Serif',
            style='italic', fontweight='bold', va='center', zorder=9)
ax_top.text(13, 865, 'KJ:  L-H: 1,007.09  ...  1,052.60  =  1,029.84', color='#FFFF33', fontsize=8.5, family='Liberation Serif',
            style='italic', fontweight='bold', va='center', zorder=9)

# red hand-drawn markup
for cx, cy, ew, eh in ((244.5, 86, 65, 64), (513, 251, 75, 69), (806, 262, 99, 80), (1497, 330, 120, 84)):
    ax_top.add_patch(Ellipse((cx, cy), ew, eh, fill=False, edgecolor='#E81010', linewidth=1.6, zorder=8))
ax_top.add_patch(Rectangle((371, 39), 54, 27, fill=False, edgecolor='#FF0000', linewidth=1.5, zorder=8))
markup = [((795, 74), (288, 88)), ((795, 74), (549, 227)), ((795, 74), (803, 222)), ((795, 74), (1458, 298)),
          ((422, 67), (1428, 365)), ((1454, 166), (1434, 365)), ((1589, 286), (1552, 322))]
for start, tip in markup:
    ax_top.annotate('', xy=tip, xytext=start, zorder=8,
                    arrowprops=dict(arrowstyle='-|>,head_width=0.32,head_length=0.62', color='#FF0000', lw=2.0,
                                    mutation_scale=19, shrinkA=0, shrinkB=0))
for bx, by, bw, bh, txt in ((1351, 142, 342, 19, 'S\u1ef1 kh\u00e1c bi\u1ec7t duy nh\u1ea5t l\u00e0 c\u00f3 h\u1ed7 tr\u1ee3 c\u1ee9ng n\u00e0y???'),
                            (1590, 272, 144, 19, 'N\u1ebfn xanh l\u1ea1i r\u1ed3i???')):
    ax_top.add_patch(Rectangle((bx, by), bw, bh, facecolor='#9E9C78', edgecolor='none', zorder=8))
    ax_top.text(bx + bw / 2, by + bh / 2, txt, color='#FF0000', fontsize=11, ha='center', va='center', zorder=9)

# price tags on the axis
ax_top.add_patch(Polygon([(1846, 325), (1855, 318), (1892, 318), (1892, 332), (1855, 332)], facecolor='#00FF00', edgecolor='none', zorder=8))
ax_top.text(1873, 325, '1,050', color='#006000', fontsize=9, ha='center', va='center', zorder=9)
ax_top.add_patch(Rectangle((1853, 385), 53, 15, facecolor='#7799BB', edgecolor='none', zorder=8))
ax_top.text(1904, 392.5, '1,036.39', color='#202020', fontsize=9, ha='right', va='center', zorder=9)
ax_top.add_patch(Rectangle((1853, 417), 53, 15, facecolor='#40E0D0', edgecolor='none', zorder=8))
ax_top.text(1904, 424.5, '1,029.84', color='#202020', fontsize=9, ha='right', va='center', zorder=9)
ax_top.text(1904, 456, '1,023.48', color='#F0F0F0', fontsize=9, ha='right', va='center', zorder=9)

# window edges
ax_top.add_patch(Rectangle((0, 0), W, 1, facecolor='#FFE8B0', edgecolor='none', zorder=10))
ax_top.add_patch(Rectangle((0, 896), W, 2, facecolor='#D8D8D8', edgecolor='none', zorder=10))

fig.savefig('out.png', dpi=100, facecolor='black')
